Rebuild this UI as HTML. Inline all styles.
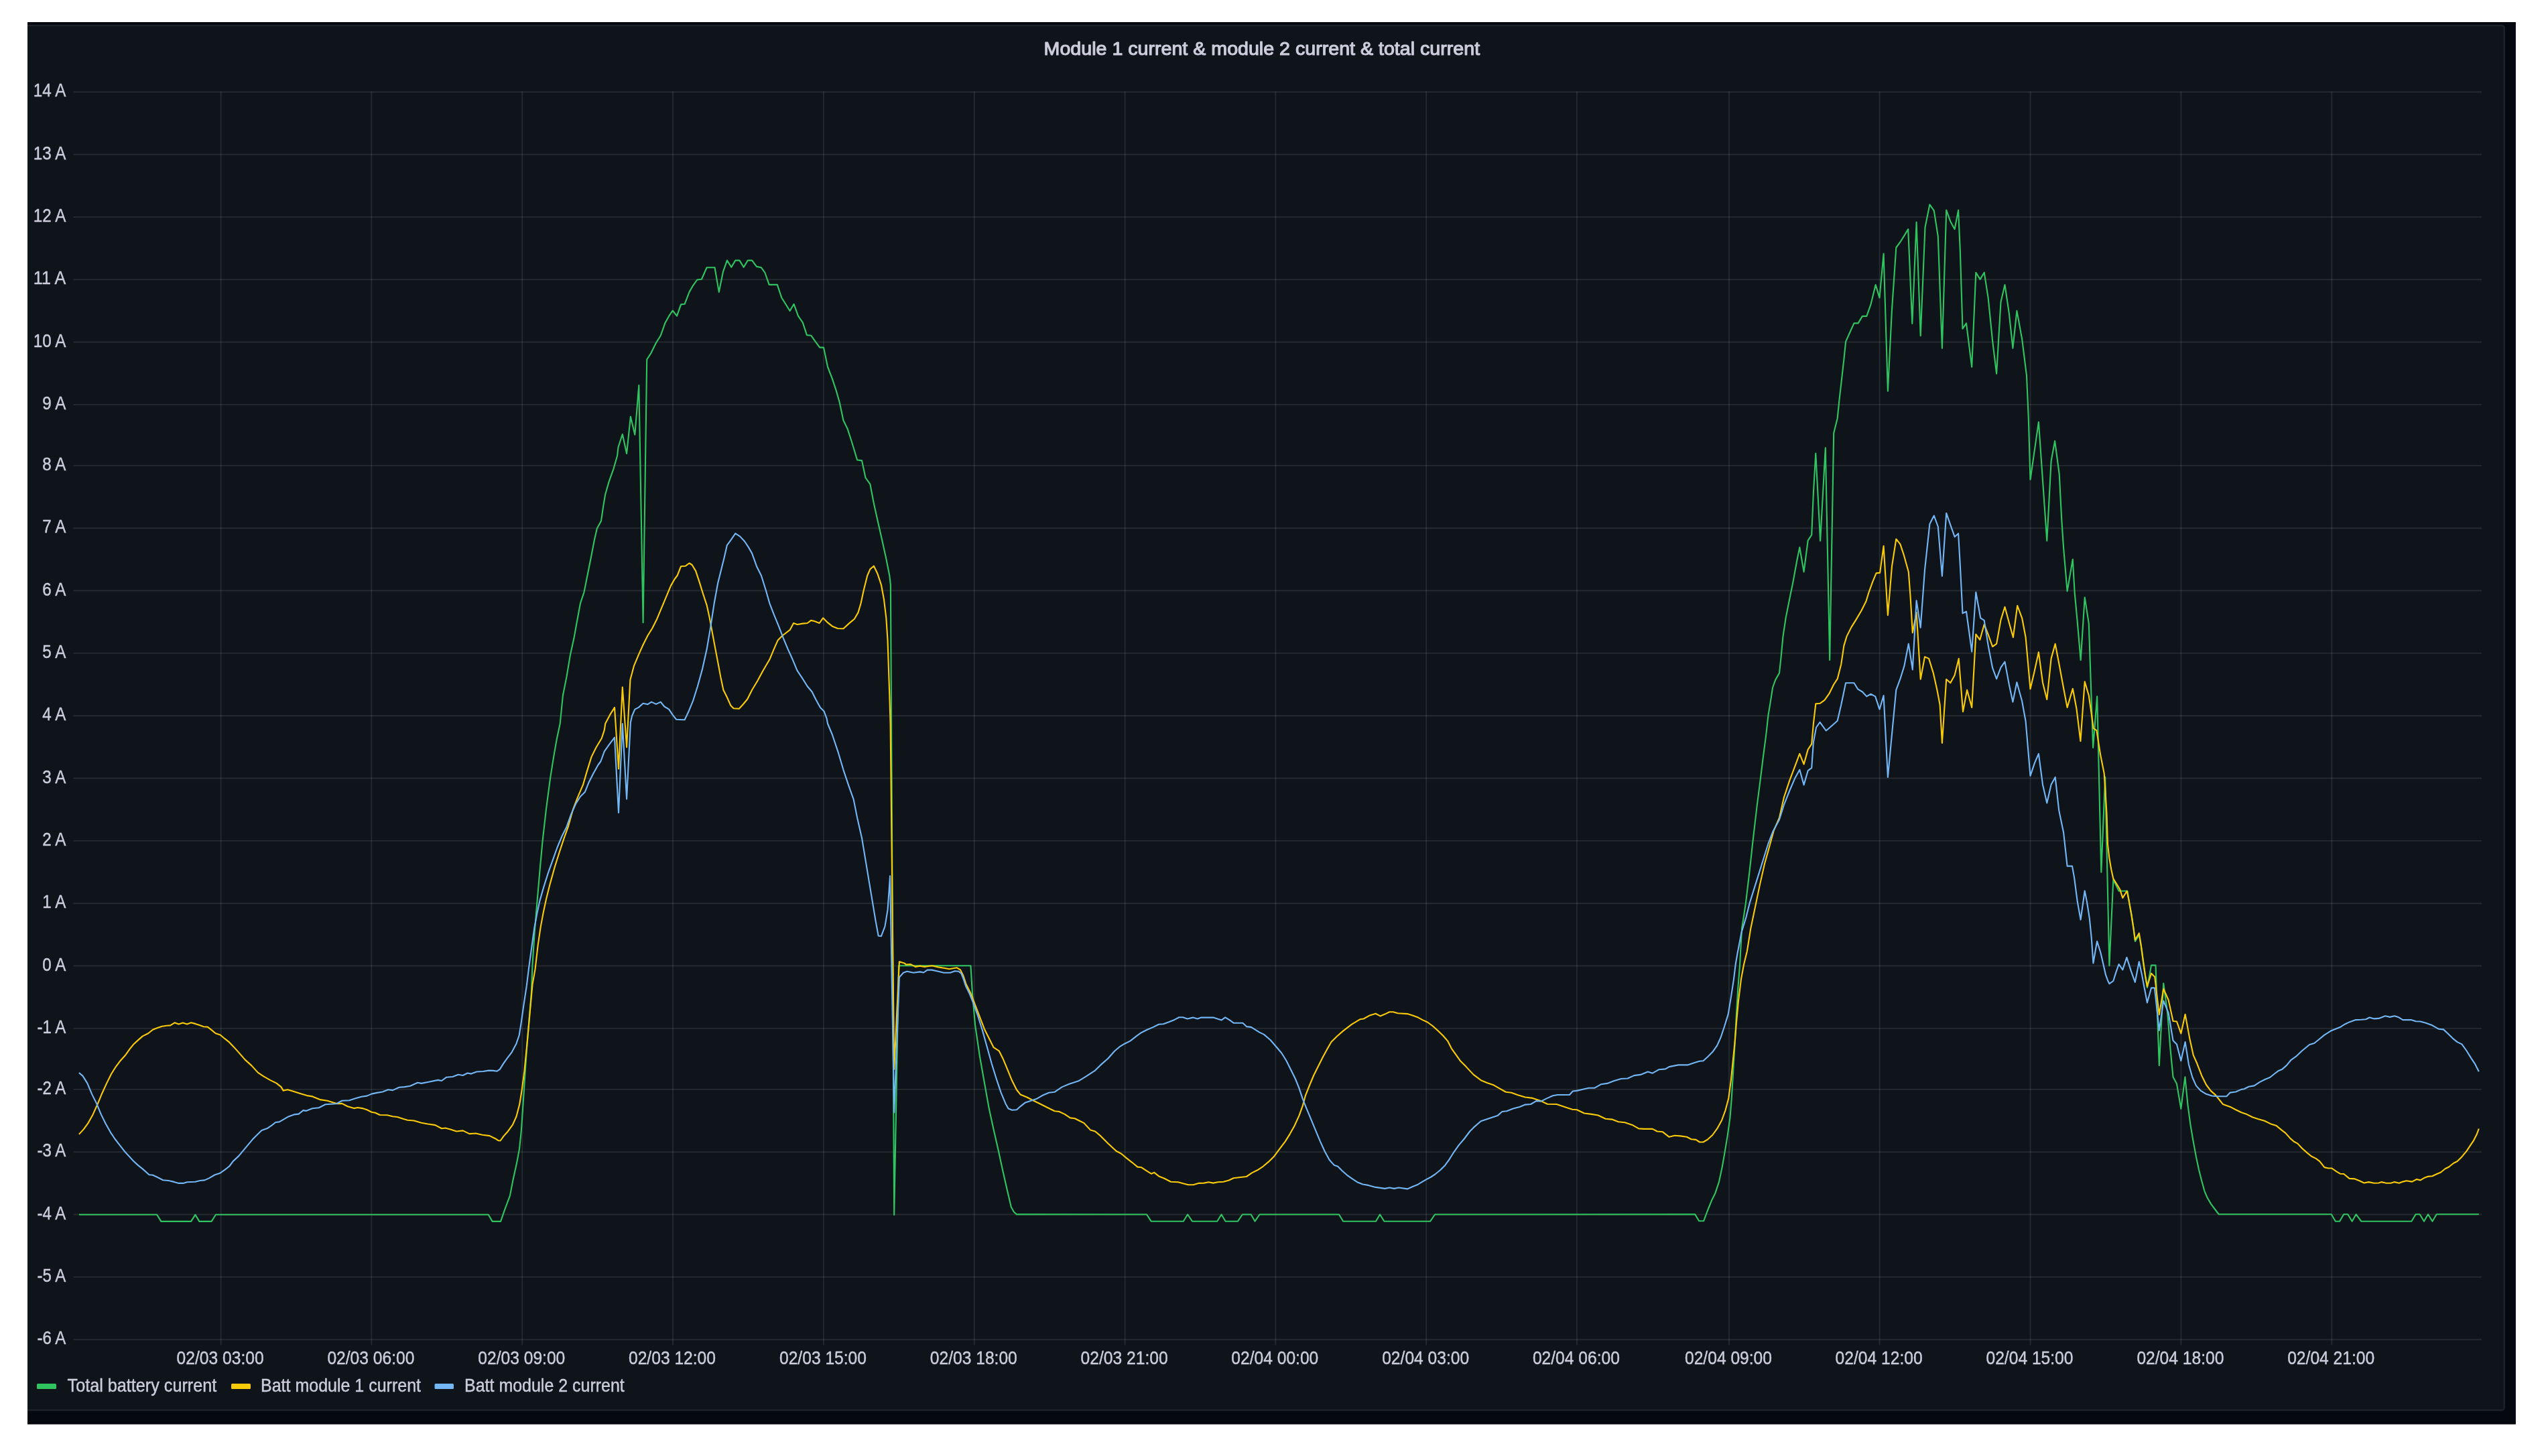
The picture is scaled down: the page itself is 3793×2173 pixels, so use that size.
<!DOCTYPE html>
<html><head><meta charset="utf-8"><title>Module 1 current &amp; module 2 current &amp; total current</title>
<style>
html,body{margin:0;padding:0;background:#fff;}
body{width:3793px;height:2173px;overflow:hidden;position:relative;font-family:"Liberation Sans",sans-serif;}
svg{position:absolute;left:0;top:0;}
text{font-family:"Liberation Sans",sans-serif;fill:#ccccdc;stroke:#ccccdc;stroke-width:0.45px;stroke-linejoin:round;}
.ax{font-size:27.6px;}
.lg{font-size:27.6px;}
.ttl{font-size:28px;font-weight:normal;stroke-width:1.15px;}
.grid line{stroke:rgba(240,242,244,0.10);stroke-width:1.85;}
.s{fill:none;stroke-width:2.12;stroke-linejoin:round;stroke-linecap:butt;}
</style></head><body>
<svg width="3793" height="2173" viewBox="0 0 3793 2173">

<rect x="41" y="33" width="3712.9" height="2092.75" fill="#060810"/>
<rect x="20" y="38.15" width="3716.7" height="2066.35" rx="3.5" fill="#0f131a" stroke="#1e2229" stroke-width="2.33"/>
<rect x="0" y="0" width="41" height="2173" fill="#fff"/>
<g style="filter:blur(0.35px)">
<g class="grid">
<line x1="109.5" y1="1999.2" x2="3703" y2="1999.2"/>
<line x1="109.5" y1="1905.9" x2="3703" y2="1905.9"/>
<line x1="109.5" y1="1812.5" x2="3703" y2="1812.5"/>
<line x1="109.5" y1="1719.2" x2="3703" y2="1719.2"/>
<line x1="109.5" y1="1625.9" x2="3703" y2="1625.9"/>
<line x1="109.5" y1="1534.9" x2="3703" y2="1534.9"/>
<line x1="109.5" y1="1441.5" x2="3703" y2="1441.5"/>
<line x1="109.5" y1="1348.2" x2="3703" y2="1348.2"/>
<line x1="109.5" y1="1254.9" x2="3703" y2="1254.9"/>
<line x1="109.5" y1="1161.5" x2="3703" y2="1161.5"/>
<line x1="109.5" y1="1068.2" x2="3703" y2="1068.2"/>
<line x1="109.5" y1="974.9" x2="3703" y2="974.9"/>
<line x1="109.5" y1="881.5" x2="3703" y2="881.5"/>
<line x1="109.5" y1="788.2" x2="3703" y2="788.2"/>
<line x1="109.5" y1="694.9" x2="3703" y2="694.9"/>
<line x1="109.5" y1="603.9" x2="3703" y2="603.9"/>
<line x1="109.5" y1="510.5" x2="3703" y2="510.5"/>
<line x1="109.5" y1="417.2" x2="3703" y2="417.2"/>
<line x1="109.5" y1="323.9" x2="3703" y2="323.9"/>
<line x1="109.5" y1="230.5" x2="3703" y2="230.5"/>
<line x1="109.5" y1="137.2" x2="3703" y2="137.2"/>
<line x1="329.6" y1="136.6" x2="329.6" y2="2007.5"/>
<line x1="554.4" y1="136.6" x2="554.4" y2="2007.5"/>
<line x1="779.3" y1="136.6" x2="779.3" y2="2007.5"/>
<line x1="1004.0" y1="136.6" x2="1004.0" y2="2007.5"/>
<line x1="1229.0" y1="136.6" x2="1229.0" y2="2007.5"/>
<line x1="1453.8" y1="136.6" x2="1453.8" y2="2007.5"/>
<line x1="1678.6" y1="136.6" x2="1678.6" y2="2007.5"/>
<line x1="1903.3" y1="136.6" x2="1903.3" y2="2007.5"/>
<line x1="2128.2" y1="136.6" x2="2128.2" y2="2007.5"/>
<line x1="2352.9" y1="136.6" x2="2352.9" y2="2007.5"/>
<line x1="2580.0" y1="136.6" x2="2580.0" y2="2007.5"/>
<line x1="2804.6" y1="136.6" x2="2804.6" y2="2007.5"/>
<line x1="3029.5" y1="136.6" x2="3029.5" y2="2007.5"/>
<line x1="3254.4" y1="136.6" x2="3254.4" y2="2007.5"/>
<line x1="3479.2" y1="136.6" x2="3479.2" y2="2007.5"/>
</g>
<g style="filter:blur(0.4px)">
<text class="ax" x="55.5" y="2006.4" textLength="42.8" lengthAdjust="spacingAndGlyphs">-6 A</text>
<text class="ax" x="55.5" y="1913.1" textLength="42.8" lengthAdjust="spacingAndGlyphs">-5 A</text>
<text class="ax" x="55.5" y="1819.7" textLength="42.8" lengthAdjust="spacingAndGlyphs">-4 A</text>
<text class="ax" x="55.5" y="1726.4" textLength="42.8" lengthAdjust="spacingAndGlyphs">-3 A</text>
<text class="ax" x="55.5" y="1633.1" textLength="42.8" lengthAdjust="spacingAndGlyphs">-2 A</text>
<text class="ax" x="55.5" y="1542.1" textLength="42.8" lengthAdjust="spacingAndGlyphs">-1 A</text>
<text class="ax" x="63.3" y="1448.7" textLength="35" lengthAdjust="spacingAndGlyphs">0 A</text>
<text class="ax" x="63.3" y="1355.4" textLength="35" lengthAdjust="spacingAndGlyphs">1 A</text>
<text class="ax" x="63.3" y="1262.1" textLength="35" lengthAdjust="spacingAndGlyphs">2 A</text>
<text class="ax" x="63.3" y="1168.7" textLength="35" lengthAdjust="spacingAndGlyphs">3 A</text>
<text class="ax" x="63.3" y="1075.4" textLength="35" lengthAdjust="spacingAndGlyphs">4 A</text>
<text class="ax" x="63.3" y="982.1" textLength="35" lengthAdjust="spacingAndGlyphs">5 A</text>
<text class="ax" x="63.3" y="888.7" textLength="35" lengthAdjust="spacingAndGlyphs">6 A</text>
<text class="ax" x="63.3" y="795.4" textLength="35" lengthAdjust="spacingAndGlyphs">7 A</text>
<text class="ax" x="63.3" y="702.1" textLength="35" lengthAdjust="spacingAndGlyphs">8 A</text>
<text class="ax" x="63.3" y="611.1" textLength="35" lengthAdjust="spacingAndGlyphs">9 A</text>
<text class="ax" x="49.8" y="517.7" textLength="48.5" lengthAdjust="spacingAndGlyphs">10 A</text>
<text class="ax" x="49.8" y="424.4" textLength="48.5" lengthAdjust="spacingAndGlyphs">11 A</text>
<text class="ax" x="49.8" y="331.1" textLength="48.5" lengthAdjust="spacingAndGlyphs">12 A</text>
<text class="ax" x="49.8" y="237.7" textLength="48.5" lengthAdjust="spacingAndGlyphs">13 A</text>
<text class="ax" x="49.8" y="144.4" textLength="48.5" lengthAdjust="spacingAndGlyphs">14 A</text>
<text class="ax" x="263.6" y="2036" textLength="130" lengthAdjust="spacingAndGlyphs">02/03 03:00</text>
<text class="ax" x="488.4" y="2036" textLength="130" lengthAdjust="spacingAndGlyphs">02/03 06:00</text>
<text class="ax" x="713.3" y="2036" textLength="130" lengthAdjust="spacingAndGlyphs">02/03 09:00</text>
<text class="ax" x="938.0" y="2036" textLength="130" lengthAdjust="spacingAndGlyphs">02/03 12:00</text>
<text class="ax" x="1163.0" y="2036" textLength="130" lengthAdjust="spacingAndGlyphs">02/03 15:00</text>
<text class="ax" x="1387.8" y="2036" textLength="130" lengthAdjust="spacingAndGlyphs">02/03 18:00</text>
<text class="ax" x="1612.6" y="2036" textLength="130" lengthAdjust="spacingAndGlyphs">02/03 21:00</text>
<text class="ax" x="1837.3" y="2036" textLength="130" lengthAdjust="spacingAndGlyphs">02/04 00:00</text>
<text class="ax" x="2062.2" y="2036" textLength="130" lengthAdjust="spacingAndGlyphs">02/04 03:00</text>
<text class="ax" x="2286.9" y="2036" textLength="130" lengthAdjust="spacingAndGlyphs">02/04 06:00</text>
<text class="ax" x="2514.0" y="2036" textLength="130" lengthAdjust="spacingAndGlyphs">02/04 09:00</text>
<text class="ax" x="2738.6" y="2036" textLength="130" lengthAdjust="spacingAndGlyphs">02/04 12:00</text>
<text class="ax" x="2963.5" y="2036" textLength="130" lengthAdjust="spacingAndGlyphs">02/04 15:00</text>
<text class="ax" x="3188.4" y="2036" textLength="130" lengthAdjust="spacingAndGlyphs">02/04 18:00</text>
<text class="ax" x="3413.2" y="2036" textLength="130" lengthAdjust="spacingAndGlyphs">02/04 21:00</text>
<text class="ttl" x="1557.6" y="82" textLength="650.5" lengthAdjust="spacingAndGlyphs">Module 1 current &amp; module 2 current &amp; total current</text>
<rect x="55" y="2065" width="29" height="8" rx="1.5" fill="#30c461"/>
<text class="lg" x="100.6" y="2077" textLength="222.6" lengthAdjust="spacingAndGlyphs">Total battery current</text>
<rect x="345" y="2065" width="29" height="8" rx="1.5" fill="#f9ca08"/>
<text class="lg" x="389" y="2077" textLength="239" lengthAdjust="spacingAndGlyphs">Batt module 1 current</text>
<rect x="648.5" y="2065" width="28.5" height="8" rx="1.5" fill="#72b6f5"/>
<text class="lg" x="693.1" y="2077" textLength="238.6" lengthAdjust="spacingAndGlyphs">Batt module 2 current</text>
</g>
<polyline class="s" stroke="#30c461" points="117.9,1812.7 234.1,1812.7 240.4,1822.9 285.1,1822.9 291.4,1812.9 297.4,1822.9 315.6,1822.9 322.0,1812.7 728.7,1812.7 734.7,1822.9 747.1,1822.9 753.2,1805.2 760.9,1784.6 765.5,1760.9 771.0,1736.1 775.1,1714.1 777.9,1686.5 780.7,1645.2 783.4,1603.9 786.2,1562.6 788.9,1529.6 791.7,1496.5 793.0,1480.0 794.4,1441.3 797.7,1391.2 801.3,1347.9 805.4,1300.3 809.6,1254.9 815.1,1206.7 821.1,1161.2 826.1,1129.6 831.0,1102.0 835.7,1080.0 839.9,1038.0 845.4,1010.4 850.9,977.4 856.4,952.6 861.9,922.3 866.0,900.3 871.5,883.8 877.0,856.2 882.5,828.7 886.7,806.7 890.8,788.8 896.9,777.8 900.4,754.4 903.2,737.8 908.7,718.6 915.6,699.3 921.1,680.0 922.5,667.3 928.8,648.0 935.1,676.9 940.9,621.8 947.3,648.8 953.3,575.0 959.6,929.2 965.2,536.5 971.5,526.8 978.9,511.7 985.8,500.7 992.7,481.4 998.2,471.7 1003.7,463.5 1010.0,471.7 1016.1,454.4 1021.6,453.8 1028.5,435.9 1034.0,426.3 1040.3,417.5 1046.9,416.7 1054.6,399.3 1066.5,399.3 1072.8,435.9 1078.9,405.7 1084.9,388.6 1091.3,398.8 1097.3,388.6 1103.4,388.6 1109.7,398.8 1115.8,388.6 1122.1,388.6 1129.0,397.9 1135.9,399.3 1141.4,407.0 1147.7,424.9 1159.8,424.9 1166.2,444.2 1172.2,453.8 1178.6,464.0 1184.6,453.8 1191.0,471.7 1197.8,481.4 1203.9,500.1 1210.2,500.7 1217.1,510.3 1223.2,518.6 1229.0,518.6 1235.0,547.5 1241.9,565.4 1247.4,581.9 1252.9,601.2 1258.4,627.3 1264.5,639.7 1270.8,659.0 1279.1,686.5 1286.0,687.4 1291.5,713.0 1298.4,722.7 1303.9,751.6 1310.7,781.9 1316.3,806.7 1321.8,831.5 1327.3,859.0 1328.9,872.8 1334.2,1813.2 1341.0,1441.3 1448.4,1441.3 1450.9,1482.0 1455.1,1530.1 1462.0,1577.0 1468.8,1615.5 1475.7,1654.1 1482.6,1685.7 1489.5,1716.0 1496.4,1747.7 1503.3,1778.0 1508.8,1801.4 1512.9,1808.8 1517.0,1812.4 1711.0,1812.5 1717.6,1822.7 1765.8,1822.7 1772.1,1812.5 1779.0,1822.7 1816.2,1822.7 1822.5,1812.5 1828.6,1822.7 1847.0,1822.7 1853.9,1812.5 1866.6,1812.5 1872.6,1822.7 1879.5,1812.5 1997.9,1812.5 2004.2,1822.7 2053.0,1822.7 2059.0,1812.5 2065.4,1822.7 2134.2,1822.7 2141.1,1812.5 2529.2,1812.4 2535.2,1822.3 2542.1,1822.3 2548.4,1805.5 2553.9,1791.8 2559.4,1780.7 2564.9,1764.2 2569.6,1742.2 2574.0,1717.4 2577.6,1695.4 2581.5,1667.8 2583.7,1640.3 2586.2,1599.0 2588.6,1557.7 2590.8,1516.4 2593.3,1475.1 2596.0,1441.1 2597.4,1415.0 2599.1,1385.7 2604.9,1348.2 2610.7,1299.2 2615.6,1254.5 2622.0,1200.0 2627.0,1161.2 2631.1,1128.2 2635.2,1096.9 2638.5,1067.2 2641.8,1047.4 2645.1,1026.0 2649.3,1014.4 2655.0,1004.5 2657.5,981.4 2660.5,949.9 2664.6,922.3 2670.1,894.8 2675.7,867.3 2681.2,837.0 2685.3,816.9 2691.6,853.5 2697.7,806.7 2703.2,798.4 2705.9,735.1 2709.3,676.5 2716.1,807.2 2723.8,668.3 2730.2,985.1 2736.2,646.2 2741.7,624.2 2744.5,596.7 2748.6,560.9 2751.4,536.1 2754.1,509.9 2760.2,496.2 2766.5,482.4 2772.6,482.4 2778.9,471.9 2785.3,471.9 2791.3,454.9 2798.7,425.1 2804.5,444.4 2810.6,378.6 2816.9,583.7 2823.0,461.7 2829.3,369.5 2835.4,361.2 2841.4,351.6 2847.2,342.0 2853.3,483.0 2859.6,331.5 2865.7,501.1 2872.5,339.2 2879.4,305.3 2885.8,314.4 2891.8,353.0 2897.9,519.6 2904.2,313.6 2910.3,330.4 2916.6,342.0 2922.1,313.6 2924.9,376.4 2928.5,490.7 2934.0,482.4 2942.2,547.7 2948.3,406.7 2954.6,416.9 2960.7,406.7 2966.7,445.2 2973.1,508.6 2979.1,557.6 2985.5,450.7 2991.5,425.1 2997.8,467.3 3003.4,519.6 3009.4,463.9 3017.1,505.8 3024.0,560.9 3026.8,624.2 3029.5,715.8 3041.9,629.7 3054.3,807.2 3060.6,688.3 3066.1,658.1 3072.7,707.5 3076.3,776.4 3079.1,817.7 3084.6,882.4 3092.8,834.8 3095.6,883.8 3099.7,927.8 3104.7,985.1 3110.7,891.5 3116.8,930.6 3123.1,1115.9 3129.2,1039.4 3135.3,1301.7 3141.2,1159.7 3147.4,1441.3 3153.3,1312.9 3161.6,1329.8 3174.4,1329.8 3177.0,1346.0 3180.7,1367.0 3183.7,1387.0 3186.0,1405.0 3191.8,1395.0 3195.0,1413.0 3198.0,1436.0 3201.0,1457.0 3204.0,1474.0 3210.0,1440.6 3216.5,1440.6 3221.8,1590.1 3228.2,1467.5 3234.2,1511.6 3238.3,1563.9 3242.5,1607.2 3248.0,1617.6 3254.3,1654.8 3260.4,1607.2 3264.5,1649.3 3268.6,1679.6 3272.8,1704.4 3276.9,1726.4 3281.0,1745.7 3285.2,1762.2 3289.3,1777.3 3293.4,1787.0 3298.9,1796.6 3304.4,1804.0 3310.8,1812.3 3478.7,1812.3 3484.8,1822.8 3491.1,1822.8 3497.2,1812.3 3503.2,1812.3 3509.6,1822.8 3515.6,1812.3 3523.4,1822.8 3598.3,1822.8 3604.6,1812.3 3610.6,1812.3 3617.0,1822.8 3623.0,1812.3 3629.4,1822.8 3635.7,1812.3 3698.8,1812.3"/>
<polyline class="s" stroke="#f9ca08" points="117.9,1692.9 124.8,1685.4 131.7,1675.8 138.6,1663.4 145.4,1648.3 152.3,1631.7 159.2,1616.6 166.1,1602.8 173.0,1591.8 179.9,1582.7 186.7,1575.3 193.6,1565.7 199.1,1558.8 206.0,1552.4 212.9,1546.4 221.2,1542.3 228.0,1536.7 234.9,1534.0 241.8,1531.8 248.7,1530.7 254.2,1530.4 260.5,1526.3 266.6,1528.5 272.9,1526.6 279.0,1528.5 285.1,1526.3 291.4,1527.9 297.7,1530.1 303.8,1532.3 309.8,1532.6 316.2,1537.6 321.7,1542.3 328.6,1544.5 335.4,1550.2 342.3,1555.7 349.2,1562.9 356.1,1570.6 365.7,1581.6 375.4,1590.4 385.0,1600.9 393.3,1606.4 402.9,1611.9 412.5,1616.6 419.4,1622.1 422.7,1627.6 429.1,1626.2 436.0,1628.2 447.0,1631.7 458.0,1635.1 466.2,1636.4 477.3,1641.1 488.3,1642.8 496.5,1645.2 503.4,1647.2 510.3,1646.9 518.6,1651.3 528.2,1654.1 533.7,1653.0 540.6,1654.1 547.5,1656.3 554.4,1659.8 559.9,1660.7 566.8,1664.0 577.8,1664.2 586.0,1666.2 592.9,1667.0 601.2,1669.7 608.1,1671.7 617.7,1672.5 628.7,1675.8 638.4,1677.5 649.4,1679.1 659.0,1684.3 664.5,1683.5 672.8,1685.7 681.0,1688.5 690.7,1687.4 700.3,1692.1 710.0,1691.5 719.6,1693.7 730.6,1695.1 738.9,1699.2 743.5,1702.2 746.6,1702.5 751.3,1695.9 758.1,1688.2 765.0,1678.6 770.5,1666.2 775.2,1648.3 778.8,1626.2 782.4,1598.7 785.7,1565.7 789.0,1529.9 791.7,1499.6 794.5,1469.3 798.6,1446.2 802.7,1410.4 806.8,1382.9 810.9,1360.9 815.1,1341.6 820.6,1319.6 827.5,1294.8 834.4,1272.8 841.2,1252.1 848.1,1232.8 855.0,1208.0 861.9,1190.1 870.1,1170.9 875.7,1151.6 882.5,1129.6 889.4,1115.8 897.7,1102.0 901.8,1089.6 903.2,1080.1 910.1,1066.9 917.0,1055.9 923.0,1147.5 928.8,1025.6 935.1,1115.2 940.4,1014.6 945.9,993.9 952.8,977.4 959.6,962.3 966.5,948.5 973.4,937.5 980.3,923.7 987.2,907.2 994.1,890.7 1001.0,874.1 1006.5,864.5 1010.6,859.0 1016.1,845.2 1023.0,844.7 1028.5,840.5 1032.6,843.0 1038.1,852.1 1043.6,868.6 1049.1,886.5 1054.6,903.1 1058.8,922.3 1062.9,944.4 1067.0,966.4 1071.2,988.4 1075.3,1010.4 1079.4,1029.7 1084.9,1040.7 1090.4,1053.1 1094.6,1057.3 1102.8,1057.8 1108.3,1051.8 1115.2,1043.5 1122.1,1029.7 1130.4,1016.0 1138.6,1000.8 1148.3,984.3 1155.2,967.8 1160.7,955.4 1167.6,948.5 1178.6,940.2 1184.1,930.0 1189.6,932.0 1197.8,930.6 1204.7,930.0 1210.2,925.9 1215.7,927.3 1222.6,930.0 1228.1,922.3 1235.0,929.2 1241.9,934.7 1250.2,938.0 1258.4,938.3 1266.7,930.6 1274.9,923.7 1280.5,914.1 1284.6,900.3 1288.7,881.0 1294.2,859.0 1298.4,849.4 1303.9,844.7 1309.4,856.2 1314.9,872.8 1319.0,894.8 1322.3,922.3 1324.5,955.4 1325.9,996.7 1327.3,1038.0 1328.6,1080.1 1334.2,1595.7 1341.9,1435.2 1349.3,1437.4 1352.1,1439.6 1358.9,1439.1 1365.8,1442.9 1372.7,1441.6 1379.6,1442.9 1390.6,1441.3 1400.0,1443.4 1408.3,1444.8 1416.5,1446.2 1427.5,1444.2 1433.0,1447.5 1437.2,1455.8 1441.3,1468.2 1448.2,1482.0 1455.1,1499.9 1462.0,1517.8 1468.8,1535.7 1475.7,1549.4 1482.6,1563.2 1490.9,1568.7 1496.4,1579.7 1503.3,1596.2 1510.1,1612.8 1517.0,1626.5 1522.5,1633.4 1532.2,1637.5 1541.8,1642.5 1551.5,1647.2 1562.5,1652.7 1573.5,1658.2 1580.4,1659.0 1588.6,1662.9 1596.9,1668.4 1603.8,1669.2 1610.7,1672.8 1617.5,1676.1 1627.2,1686.6 1634.1,1688.5 1642.3,1695.4 1653.3,1706.4 1665.7,1718.0 1672.6,1721.5 1680.9,1728.4 1689.1,1734.8 1697.4,1741.6 1702.9,1742.2 1711.2,1747.7 1718.1,1751.8 1722.2,1749.9 1729.1,1755.4 1737.3,1758.7 1747.0,1763.7 1758.0,1764.2 1766.2,1766.4 1773.1,1768.3 1781.4,1768.1 1788.3,1765.9 1796.5,1765.6 1803.4,1764.2 1810.3,1765.6 1817.2,1764.2 1825.5,1763.7 1833.7,1761.5 1840.6,1758.2 1848.9,1757.3 1859.9,1756.0 1868.1,1750.4 1876.4,1746.3 1884.7,1740.8 1892.9,1733.9 1901.2,1725.7 1909.4,1714.6 1917.7,1703.6 1924.6,1692.6 1931.5,1680.2 1938.4,1665.1 1943.9,1649.9 1948.0,1634.8 1953.5,1621.0 1960.4,1604.5 1967.3,1590.7 1974.2,1577.0 1981.0,1564.6 1986.5,1554.9 1994.8,1546.7 2004.4,1538.4 2016.8,1528.8 2029.2,1521.3 2034.7,1520.5 2043.0,1515.8 2052.6,1512.8 2059.5,1516.4 2066.4,1513.6 2073.3,1510.3 2078.8,1510.3 2085.7,1512.3 2100.0,1513.1 2107.8,1515.6 2116.1,1518.6 2123.0,1522.4 2129.9,1525.5 2138.1,1531.5 2146.4,1539.0 2153.3,1545.8 2160.1,1553.6 2165.7,1564.6 2172.5,1574.2 2179.4,1583.8 2187.7,1592.1 2198.7,1603.9 2209.7,1612.2 2219.4,1616.3 2229.0,1619.6 2238.6,1625.2 2246.9,1629.8 2255.2,1630.7 2264.8,1634.2 2275.8,1637.5 2286.8,1638.9 2299.2,1643.1 2308.9,1647.7 2322.6,1648.0 2330.9,1650.8 2339.1,1653.5 2346.0,1655.7 2352.9,1656.3 2363.9,1661.5 2374.9,1662.9 2384.6,1664.5 2395.6,1669.8 2405.2,1670.6 2414.9,1674.2 2424.5,1675.3 2435.5,1678.9 2445.2,1684.4 2453.4,1684.9 2465.8,1684.9 2472.7,1688.5 2481.0,1689.3 2490.6,1696.8 2498.9,1694.8 2507.1,1695.4 2516.8,1696.8 2523.6,1700.3 2530.5,1700.9 2536.0,1704.5 2541.5,1704.5 2548.4,1700.3 2555.3,1694.0 2562.2,1684.4 2569.1,1672.0 2574.6,1656.8 2579.3,1638.9 2582.8,1612.8 2585.6,1585.2 2588.4,1557.7 2591.1,1524.6 2593.9,1494.4 2598.0,1461.3 2602.1,1439.3 2606.8,1420.0 2612.3,1385.7 2619.2,1352.6 2626.1,1319.6 2633.0,1289.3 2639.9,1264.5 2646.7,1239.7 2655.0,1220.4 2661.9,1190.1 2670.1,1165.4 2678.4,1143.3 2685.3,1124.9 2691.6,1140.6 2697.7,1118.6 2703.2,1110.3 2705.9,1080.0 2709.3,1050.4 2715.6,1049.8 2722.5,1044.9 2729.4,1035.2 2736.2,1021.5 2741.7,1013.2 2747.3,991.2 2751.4,963.6 2755.5,949.9 2762.4,936.1 2769.3,925.1 2777.5,911.3 2784.4,897.5 2788.6,883.8 2794.1,868.6 2799.6,855.4 2805.1,854.9 2810.6,814.9 2816.9,918.2 2823.0,845.2 2829.3,804.5 2835.4,812.2 2840.9,828.7 2847.8,853.5 2850.5,889.3 2853.8,944.4 2859.6,914.1 2865.7,1013.8 2872.0,980.2 2878.1,982.9 2884.9,1004.9 2890.4,1029.7 2894.6,1051.8 2897.9,1108.9 2904.2,1013.8 2910.3,1019.3 2916.6,1007.7 2922.7,982.9 2929.0,1062.2 2935.1,1029.7 2942.2,1055.9 2948.3,946.6 2954.3,954.8 2960.7,932.0 2966.7,947.1 2973.1,965.0 2979.1,960.9 2985.5,925.1 2991.5,905.8 2997.8,929.2 3003.9,951.2 3010.2,903.9 3017.1,922.3 3022.6,951.2 3029.5,1028.3 3035.6,1002.2 3041.9,973.3 3048.0,1018.7 3054.3,1044.0 3060.6,982.9 3066.7,960.9 3072.7,992.5 3079.1,1027.0 3084.6,1055.9 3092.8,1027.8 3098.4,1057.3 3104.4,1106.2 3110.7,1017.3 3116.8,1038.0 3123.8,1087.2 3128.4,1090.2 3134.2,1126.8 3139.7,1154.4 3141.5,1180.9 3143.5,1215.0 3145.0,1260.0 3147.2,1279.6 3150.3,1297.8 3153.3,1311.4 3158.6,1319.7 3163.1,1327.2 3167.3,1340.1 3173.7,1329.8 3176.7,1344.6 3180.5,1365.8 3183.5,1385.4 3185.8,1402.8 3191.8,1392.7 3194.8,1411.1 3197.9,1433.8 3200.9,1454.9 3203.9,1472.3 3210.0,1452.7 3215.2,1458.0 3221.8,1514.4 3228.2,1475.8 3235.6,1492.3 3242.5,1524.0 3248.0,1524.5 3254.3,1542.4 3260.6,1513.8 3267.3,1550.1 3272.8,1574.9 3278.3,1587.3 3285.2,1605.2 3292.0,1619.0 3298.9,1628.1 3305.8,1634.1 3311.3,1641.0 3316.8,1647.9 3322.3,1650.1 3329.2,1652.6 3336.1,1656.2 3344.4,1660.3 3352.6,1663.1 3360.9,1667.2 3369.1,1669.9 3378.8,1672.7 3388.4,1677.4 3396.7,1680.1 3403.6,1685.9 3410.4,1691.1 3417.3,1698.9 3422.8,1703.8 3428.3,1706.6 3435.2,1714.0 3442.1,1720.1 3449.0,1725.8 3455.9,1729.1 3461.4,1733.3 3468.3,1742.1 3473.8,1743.5 3479.3,1743.5 3486.2,1748.4 3491.7,1751.7 3497.2,1752.0 3505.5,1758.9 3513.7,1759.4 3520.6,1762.2 3527.5,1765.5 3534.4,1764.1 3542.6,1765.8 3549.5,1765.5 3553.6,1764.1 3560.5,1765.8 3567.4,1765.8 3572.9,1764.1 3579.8,1765.8 3585.3,1763.6 3590.8,1762.2 3599.1,1763.6 3606.0,1760.0 3611.5,1761.4 3617.0,1758.1 3622.5,1755.9 3629.4,1755.3 3636.3,1752.0 3641.8,1749.8 3648.6,1744.3 3654.2,1741.5 3661.0,1736.0 3666.5,1733.3 3673.4,1726.4 3680.3,1718.1 3685.8,1709.9 3691.3,1701.6 3695.5,1693.3 3698.8,1684.5"/>
<polyline class="s" stroke="#72b6f5" points="117.9,1601.2 123.4,1605.6 130.3,1616.6 137.2,1633.1 144.1,1646.9 150.9,1663.4 157.8,1677.2 164.7,1689.6 171.6,1700.0 178.5,1708.9 185.4,1717.7 192.3,1725.4 199.1,1732.8 206.0,1739.1 212.9,1744.6 222.5,1753.2 228.0,1753.7 234.9,1757.0 243.2,1761.2 251.5,1762.0 259.7,1763.9 266.6,1765.9 273.5,1765.9 279.0,1764.2 291.4,1763.7 298.3,1762.0 305.2,1761.4 312.0,1758.4 320.3,1753.5 328.6,1750.7 335.4,1745.8 342.3,1740.5 347.8,1733.1 356.1,1725.4 363.0,1717.1 369.9,1708.9 376.8,1700.6 383.6,1693.7 390.5,1687.1 398.8,1684.1 405.7,1679.4 411.2,1675.0 416.7,1674.4 423.6,1670.3 430.4,1666.4 438.7,1663.4 445.6,1662.6 452.5,1657.1 456.6,1657.9 466.2,1654.3 475.9,1653.2 485.5,1648.3 493.8,1647.7 502.0,1647.2 510.3,1642.8 521.3,1642.2 529.6,1639.5 539.2,1636.7 547.5,1635.6 554.4,1632.6 562.6,1630.9 570.9,1629.5 579.2,1626.2 586.0,1627.1 595.7,1622.7 603.9,1622.1 612.2,1620.7 623.2,1615.8 628.7,1616.9 639.7,1614.7 653.5,1611.9 659.0,1613.0 665.9,1607.8 675.5,1607.0 683.8,1603.7 690.7,1605.0 697.6,1601.5 703.1,1602.6 711.3,1599.5 721.0,1599.0 729.2,1597.6 736.1,1597.9 741.6,1598.7 745.8,1595.9 751.3,1587.1 756.8,1579.4 763.7,1570.3 770.5,1557.4 774.7,1545.0 778.0,1524.4 781.5,1499.6 785.7,1472.0 788.9,1446.2 793.0,1416.0 797.2,1385.7 801.3,1363.6 805.4,1344.4 810.9,1325.1 817.8,1303.1 824.7,1283.8 831.6,1264.5 838.5,1248.0 845.4,1234.2 852.3,1214.9 859.1,1199.8 866.0,1188.8 872.9,1181.9 878.4,1168.1 885.3,1154.4 892.2,1142.0 896.3,1136.5 901.8,1121.3 908.7,1111.7 917.0,1100.7 923.0,1213.0 928.8,1080.0 935.1,1192.4 940.9,1077.9 943.1,1068.3 947.3,1058.6 952.8,1055.9 959.6,1049.8 966.5,1051.2 972.0,1047.6 978.9,1050.9 985.8,1047.6 991.3,1054.5 998.2,1058.6 1003.7,1066.9 1009.2,1073.8 1021.6,1074.3 1027.1,1062.8 1034.0,1046.2 1040.9,1024.2 1047.8,999.4 1054.6,969.1 1060.2,936.1 1065.7,900.3 1071.2,870.0 1076.7,848.0 1080.8,831.5 1084.9,813.6 1090.4,806.1 1097.3,796.2 1104.2,800.6 1111.1,808.0 1116.6,816.3 1122.1,825.9 1129.0,845.2 1135.9,859.0 1142.8,881.0 1148.3,900.3 1155.2,918.2 1162.0,934.7 1168.9,952.6 1175.8,969.1 1182.7,984.3 1189.6,1000.8 1197.8,1013.2 1204.7,1024.2 1211.6,1032.5 1217.1,1043.5 1224.0,1055.9 1229.5,1061.4 1233.6,1072.4 1235.0,1080.0 1241.9,1096.5 1250.2,1121.3 1258.4,1148.8 1266.7,1173.6 1273.6,1192.9 1279.1,1220.4 1286.0,1250.7 1291.5,1283.8 1297.0,1316.8 1302.5,1349.9 1306.6,1374.6 1310.7,1396.7 1314.9,1397.2 1320.4,1382.9 1324.5,1358.1 1326.7,1327.8 1328.1,1307.2 1334.2,1660.4 1341.9,1458.6 1347.9,1451.8 1353.4,1449.8 1363.1,1451.8 1372.7,1450.4 1378.2,1451.5 1383.7,1447.6 1390.6,1447.6 1400.0,1449.7 1408.3,1451.7 1417.9,1451.7 1424.8,1449.2 1430.3,1449.7 1434.4,1453.0 1437.2,1459.9 1441.3,1472.3 1446.8,1483.3 1452.3,1497.1 1459.2,1516.4 1466.1,1538.4 1473.0,1563.2 1479.9,1588.0 1486.7,1610.0 1493.6,1630.7 1500.5,1647.2 1504.6,1654.6 1510.1,1656.8 1517.0,1656.3 1522.5,1651.3 1529.4,1645.8 1537.7,1643.1 1547.3,1639.7 1555.6,1634.8 1565.2,1630.7 1573.5,1629.8 1584.5,1622.4 1595.5,1617.7 1609.3,1613.3 1620.3,1606.7 1634.1,1597.6 1642.3,1589.4 1653.3,1579.7 1663.0,1568.7 1671.2,1561.8 1678.1,1557.7 1686.4,1553.6 1696.0,1546.1 1702.9,1541.2 1711.2,1537.0 1720.8,1532.9 1729.1,1528.8 1736.0,1528.2 1744.2,1525.2 1752.5,1521.9 1759.4,1518.3 1764.9,1518.3 1771.8,1520.5 1780.0,1518.6 1786.9,1520.5 1792.4,1518.6 1810.3,1518.6 1822.7,1522.4 1828.2,1518.3 1835.1,1522.7 1840.6,1526.6 1854.4,1526.8 1859.9,1532.1 1866.8,1532.9 1879.2,1540.6 1886.0,1543.9 1895.7,1552.2 1903.9,1561.8 1912.2,1571.5 1919.1,1582.5 1926.0,1596.2 1932.8,1610.0 1938.4,1623.8 1943.9,1640.3 1949.4,1654.1 1956.3,1670.6 1963.1,1687.1 1970.0,1703.6 1976.9,1718.8 1983.8,1731.2 1990.7,1738.9 1996.2,1740.8 2003.1,1747.7 2010.0,1753.8 2016.8,1758.7 2025.1,1764.2 2033.4,1767.5 2041.6,1768.9 2052.6,1771.9 2066.4,1773.9 2073.3,1772.5 2080.2,1773.9 2087.1,1772.5 2100.0,1774.4 2107.8,1771.1 2114.7,1768.3 2121.6,1764.2 2128.5,1760.1 2135.4,1756.5 2142.3,1751.8 2149.1,1746.3 2156.0,1739.4 2162.9,1729.8 2169.8,1718.8 2176.7,1709.1 2184.9,1699.5 2193.2,1688.5 2200.1,1681.6 2209.7,1673.3 2218.0,1670.6 2226.2,1667.8 2234.5,1665.1 2241.4,1659.0 2248.3,1658.2 2257.9,1654.6 2267.5,1651.9 2275.8,1648.6 2284.1,1648.0 2292.3,1643.1 2299.2,1643.6 2308.9,1638.9 2317.1,1635.3 2324.0,1634.0 2341.9,1634.0 2346.9,1628.5 2352.9,1627.9 2363.9,1625.2 2370.8,1623.8 2379.1,1623.8 2388.7,1618.3 2398.3,1616.9 2408.0,1613.3 2419.0,1610.0 2428.6,1609.5 2438.3,1605.1 2447.9,1603.9 2458.9,1599.5 2465.8,1601.7 2475.5,1596.2 2485.1,1595.4 2490.6,1592.1 2504.4,1589.4 2518.1,1589.4 2529.2,1585.8 2536.0,1583.8 2541.5,1583.3 2548.4,1577.0 2555.3,1570.1 2562.2,1560.4 2567.7,1548.0 2573.2,1531.5 2578.7,1513.6 2582.8,1488.8 2587.0,1461.3 2589.7,1439.3 2593.0,1420.0 2593.6,1417.3 2598.6,1391.2 2605.4,1369.1 2610.9,1347.1 2617.8,1325.1 2624.7,1303.1 2631.6,1281.0 2638.5,1259.0 2645.4,1241.1 2655.0,1223.2 2661.9,1201.2 2670.1,1180.5 2678.4,1161.2 2685.3,1148.8 2691.6,1171.4 2697.7,1150.2 2703.2,1146.1 2705.9,1107.5 2710.1,1085.5 2715.6,1077.9 2724.7,1090.5 2730.7,1085.5 2741.7,1075.7 2747.3,1051.8 2754.1,1019.3 2766.5,1019.3 2772.0,1028.3 2778.9,1032.5 2785.3,1039.4 2791.3,1035.8 2798.2,1039.4 2804.5,1058.6 2810.6,1038.0 2816.9,1159.9 2829.3,1029.7 2835.4,1013.2 2841.4,993.9 2847.8,960.9 2853.8,999.4 2859.6,896.2 2865.7,936.6 2872.0,850.7 2879.4,781.9 2885.8,769.5 2891.8,786.0 2897.9,859.8 2904.2,765.9 2910.3,783.3 2916.6,801.2 2922.1,796.2 2924.9,845.2 2928.5,915.4 2934.0,912.7 2942.2,972.7 2948.3,883.8 2955.2,922.3 2960.7,925.9 2966.7,963.6 2973.1,996.7 2979.1,1013.2 2985.5,996.1 2991.5,987.6 2997.8,1021.5 3003.4,1047.6 3009.4,1018.2 3017.1,1046.2 3022.6,1076.5 3029.5,1157.9 3035.8,1139.2 3041.9,1124.9 3048.0,1170.9 3054.3,1198.4 3060.6,1170.9 3066.7,1159.9 3072.2,1209.4 3079.1,1242.5 3084.6,1292.6 3092.0,1292.6 3095.1,1309.9 3099.6,1344.6 3104.6,1372.6 3110.7,1329.5 3114.0,1346.1 3117.8,1370.3 3120.8,1400.5 3123.4,1437.5 3129.1,1404.8 3134.4,1421.7 3138.2,1438.3 3142.0,1454.9 3145.0,1463.2 3147.5,1468.2 3153.3,1464.0 3157.1,1451.9 3161.6,1439.0 3167.3,1447.4 3173.4,1428.9 3179.7,1448.9 3185.8,1465.8 3191.8,1435.3 3196.3,1456.4 3203.9,1496.5 3210.0,1474.4 3214.9,1474.4 3221.8,1537.8 3228.2,1493.7 3235.6,1511.6 3242.5,1552.9 3248.0,1558.4 3254.3,1583.2 3260.6,1555.1 3265.9,1588.7 3271.4,1608.0 3276.9,1620.4 3283.8,1627.8 3292.0,1632.8 3300.3,1635.5 3308.6,1636.3 3322.3,1636.3 3327.8,1630.6 3336.1,1629.5 3344.4,1625.9 3348.5,1625.3 3355.4,1621.7 3363.6,1620.4 3371.9,1614.9 3380.2,1610.7 3387.0,1608.0 3393.9,1602.5 3399.4,1598.3 3404.9,1596.1 3411.8,1590.1 3418.7,1581.8 3427.0,1575.8 3435.2,1568.0 3446.2,1559.0 3453.1,1557.0 3460.0,1551.5 3468.3,1544.6 3477.9,1538.6 3484.8,1535.8 3491.7,1533.1 3498.6,1528.7 3505.5,1525.4 3515.1,1522.1 3523.4,1521.8 3530.2,1521.2 3535.7,1518.5 3542.6,1520.4 3549.5,1519.9 3559.2,1516.3 3566.0,1517.9 3572.9,1516.3 3578.4,1517.9 3585.3,1522.1 3597.7,1522.1 3604.6,1524.3 3611.5,1524.5 3619.7,1526.7 3629.4,1530.3 3639.0,1535.8 3645.9,1536.4 3652.8,1542.7 3659.7,1549.6 3666.5,1555.1 3673.4,1558.4 3680.3,1568.0 3687.2,1579.1 3692.7,1587.3 3698.8,1599.2"/>
</g>
</svg></body></html>
